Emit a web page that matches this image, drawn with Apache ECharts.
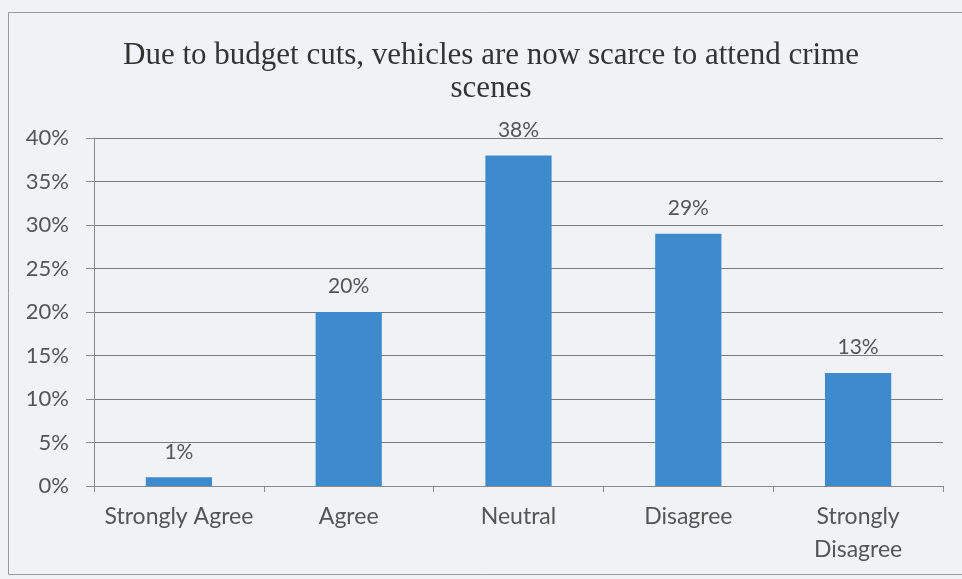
<!DOCTYPE html>
<html>
<head>
<meta charset="utf-8">
<script src="https://cdn.jsdelivr.net/npm/echarts@6/dist/echarts.min.js"></script>
<style>
  html, body { margin: 0; padding: 0; background: #f1f2f6; }
  #chart { width: 962px; height: 579px; }
</style>
</head>
<body>
<div id="chart"></div>
<script>
// Survey responses: share of respondents per answer
const categories = ['Strongly Agree', 'Agree', 'Neutral', 'Disagree', 'Strongly Disagree'];
const percentValues = [1, 20, 38, 29, 13];
const yTicks = { min: 0, max: 40, interval: 5 };
const titleText = 'Due to budget cuts, vehicles are now scarce to attend crime\nscenes';

const sansFont = 'Lato, "Open Sans", "Noto Sans", sans-serif';
const chart = echarts.init(document.getElementById('chart'));

chart.setOption({
  backgroundColor: '#f1f2f6',
  animation: false,
  title: {
    text: titleText,
    left: 486,
    textAlign: 'center',
    top: 34,
    textStyle: {
      fontFamily: '"Liberation Serif", "DejaVu Serif", serif',
      fontWeight: 'normal',
      fontSize: 31,
      lineHeight: 33,
      color: '#333'
    }
  },
  graphic: [{
    type: 'rect',
    shape: { x: 8.5, y: 12.5, width: 980, height: 562 },
    style: { fill: 'none', stroke: '#9a9a9a', lineWidth: 1 },
    silent: true
  }],
  grid: { left: 94, right: 19, top: 138, bottom: 93, containLabel: false },
  xAxis: {
    type: 'category',
    data: categories,
    axisLine: { show: true, lineStyle: { color: '#8a8a8a', width: 1 } },
    axisTick: { show: true, alignWithLabel: false, length: 6, lineStyle: { color: '#8a8a8a' } },
    axisLabel: {
      interval: 0,
      margin: 14,
      fontFamily: sansFont,
      fontSize: 23,
      lineHeight: 33,
      color: '#555',
      formatter: function (v) { return v.length > 15 ? v.replace(' ', '\n') : v; }
    }
  },
  yAxis: {
    type: 'value',
    min: yTicks.min,
    max: yTicks.max,
    interval: yTicks.interval,
    axisLine: { show: true, lineStyle: { color: '#8a8a8a', width: 1 } },
    axisTick: { show: true, length: 8, inside: false, lineStyle: { color: '#8a8a8a' } },
    axisLabel: {
      margin: 25,
      fontFamily: sansFont,
      fontSize: 22,
      color: '#555',
      formatter: '{value}%'
    },
    splitLine: { show: true, lineStyle: { color: '#7a7a7a', width: 1 } }
  },
  series: [{
    type: 'bar',
    data: percentValues,
    barWidth: '39%',
    itemStyle: { color: '#3d8bcd' },
    label: {
      show: true,
      position: 'top',
      distance: 15,
      fontFamily: sansFont,
      fontSize: 21,
      color: '#555',
      formatter: '{c}%'
    }
  }]
});
</script>
</body>
</html>
